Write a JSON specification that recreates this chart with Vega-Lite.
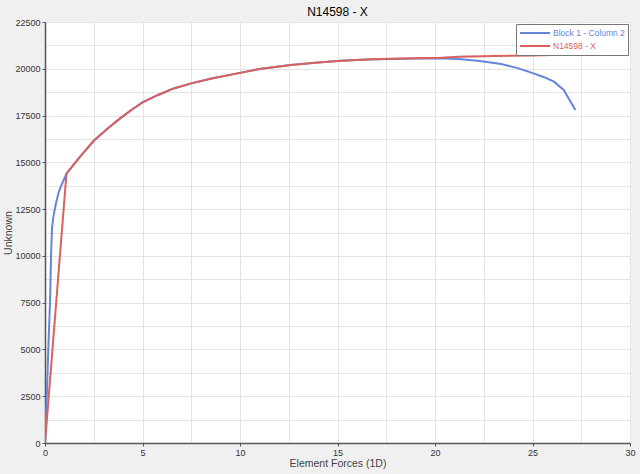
{
  "$schema": "https://vega.github.io/schema/vega-lite/v6.json",
  "width": 585,
  "height": 421,
  "autosize": {"type": "none"},
  "padding": {"left": 45, "top": 22, "right": 10, "bottom": 31},
  "background": "#f0f0f0",
  "title": {"text": "N14598 - X", "fontSize": 12, "fontWeight": "normal", "font": "Liberation Sans", "color": "#000", "offset": 5, "dy": 6, "anchor": "middle"},
  "data": {"values": [
    {"s": "Block 1 - Column 2", "x": 0, "y": 0},
    {"s": "Block 1 - Column 2", "x": 0.05, "y": 1500},
    {"s": "Block 1 - Column 2", "x": 0.1, "y": 2800},
    {"s": "Block 1 - Column 2", "x": 0.17, "y": 5000},
    {"s": "Block 1 - Column 2", "x": 0.26, "y": 7600},
    {"s": "Block 1 - Column 2", "x": 0.31, "y": 10000},
    {"s": "Block 1 - Column 2", "x": 0.36, "y": 11500},
    {"s": "Block 1 - Column 2", "x": 0.43, "y": 12100},
    {"s": "Block 1 - Column 2", "x": 0.56, "y": 12800},
    {"s": "Block 1 - Column 2", "x": 0.7, "y": 13400},
    {"s": "Block 1 - Column 2", "x": 0.85, "y": 13800},
    {"s": "Block 1 - Column 2", "x": 1.1, "y": 14400},
    {"s": "Block 1 - Column 2", "x": 1.8, "y": 15300},
    {"s": "Block 1 - Column 2", "x": 2.5, "y": 16150},
    {"s": "Block 1 - Column 2", "x": 3.2, "y": 16800},
    {"s": "Block 1 - Column 2", "x": 3.85, "y": 17350},
    {"s": "Block 1 - Column 2", "x": 4.5, "y": 17850},
    {"s": "Block 1 - Column 2", "x": 5.0, "y": 18200},
    {"s": "Block 1 - Column 2", "x": 5.8, "y": 18600},
    {"s": "Block 1 - Column 2", "x": 6.6, "y": 18950},
    {"s": "Block 1 - Column 2", "x": 7.5, "y": 19220},
    {"s": "Block 1 - Column 2", "x": 8.6, "y": 19490},
    {"s": "Block 1 - Column 2", "x": 10, "y": 19780},
    {"s": "Block 1 - Column 2", "x": 11, "y": 19990},
    {"s": "Block 1 - Column 2", "x": 12.6, "y": 20200},
    {"s": "Block 1 - Column 2", "x": 14, "y": 20330},
    {"s": "Block 1 - Column 2", "x": 15.2, "y": 20430},
    {"s": "Block 1 - Column 2", "x": 16.5, "y": 20490},
    {"s": "Block 1 - Column 2", "x": 17.7, "y": 20520},
    {"s": "Block 1 - Column 2", "x": 19, "y": 20550},
    {"s": "Block 1 - Column 2", "x": 20.3, "y": 20560},
    {"s": "Block 1 - Column 2", "x": 21.2, "y": 20520},
    {"s": "Block 1 - Column 2", "x": 22.3, "y": 20420},
    {"s": "Block 1 - Column 2", "x": 23.4, "y": 20250},
    {"s": "Block 1 - Column 2", "x": 24.2, "y": 20050},
    {"s": "Block 1 - Column 2", "x": 24.9, "y": 19810},
    {"s": "Block 1 - Column 2", "x": 25.6, "y": 19550},
    {"s": "Block 1 - Column 2", "x": 26.1, "y": 19310},
    {"s": "Block 1 - Column 2", "x": 26.6, "y": 18870},
    {"s": "Block 1 - Column 2", "x": 27.2, "y": 17800},
    {"s": "N14598 - X", "x": 0, "y": 0},
    {"s": "N14598 - X", "x": 1.1, "y": 14400},
    {"s": "N14598 - X", "x": 1.8, "y": 15300},
    {"s": "N14598 - X", "x": 2.5, "y": 16150},
    {"s": "N14598 - X", "x": 3.2, "y": 16800},
    {"s": "N14598 - X", "x": 3.85, "y": 17350},
    {"s": "N14598 - X", "x": 4.5, "y": 17850},
    {"s": "N14598 - X", "x": 5.0, "y": 18200},
    {"s": "N14598 - X", "x": 5.8, "y": 18600},
    {"s": "N14598 - X", "x": 6.6, "y": 18950},
    {"s": "N14598 - X", "x": 7.5, "y": 19220},
    {"s": "N14598 - X", "x": 8.6, "y": 19490},
    {"s": "N14598 - X", "x": 10, "y": 19780},
    {"s": "N14598 - X", "x": 11, "y": 19990},
    {"s": "N14598 - X", "x": 12.6, "y": 20200},
    {"s": "N14598 - X", "x": 14, "y": 20330},
    {"s": "N14598 - X", "x": 15.2, "y": 20430},
    {"s": "N14598 - X", "x": 16.5, "y": 20490},
    {"s": "N14598 - X", "x": 17.7, "y": 20530},
    {"s": "N14598 - X", "x": 19, "y": 20560},
    {"s": "N14598 - X", "x": 20.3, "y": 20590},
    {"s": "N14598 - X", "x": 21.2, "y": 20640},
    {"s": "N14598 - X", "x": 23, "y": 20680},
    {"s": "N14598 - X", "x": 25, "y": 20710},
    {"s": "N14598 - X", "x": 26, "y": 20740}
  ]},
  "mark": {"type": "line", "strokeWidth": 2, "clip": true},
  "encoding": {
    "x": {
      "field": "x", "type": "quantitative",
      "scale": {"domain": [0, 30], "nice": false, "zero": false},
      "axis": {
        "title": "Element Forces (1D)",
        "values": [0, 2.5, 5, 7.5, 10, 12.5, 15, 17.5, 20, 22.5, 25, 27.5, 30],
        "labelExpr": "datum.value % 5 === 0 ? datum.label : ''",
        "tickColor": {"condition": {"test": "datum.value % 5 === 0", "value": "#555"}, "value": "transparent"},
        "format": "d"
      }
    },
    "y": {
      "field": "y", "type": "quantitative",
      "scale": {"domain": [0, 22500], "nice": false, "zero": false},
      "axis": {
        "title": "Unknown",
        "values": [0, 1250, 2500, 3750, 5000, 6250, 7500, 8750, 10000, 11250, 12500, 13750, 15000, 16250, 17500, 18750, 20000, 21250, 22500],
        "labelExpr": "datum.value % 2500 === 0 ? datum.label : ''",
        "tickColor": {"condition": {"test": "datum.value % 2500 === 0", "value": "#555"}, "value": "transparent"},
        "format": "d"
      }
    },
    "color": {
      "field": "s", "type": "nominal",
      "scale": {"domain": ["Block 1 - Column 2", "N14598 - X"], "range": ["#6685dc", "#d9615c"]},
      "legend": {
        "title": null,
        "orient": "top-right",
        "offset": 2,
        "fillColor": "white",
        "strokeColor": "#777",
        "padding": 3,
        "rowPadding": 1,
        "clipHeight": 12,
        "symbolType": "stroke",
        "symbolStrokeWidth": 2,
        "symbolSize": 900,
        "labelOffset": 2,
        "labelFontSize": 8.5,
        "labelFont": "Liberation Sans",
        "encode": {"labels": {"update": {"fill": {"scale": "color", "field": "value"}}}}
      }
    }
  },
  "config": {
    "view": {"fill": "white", "stroke": "#999", "strokeWidth": 1},
    "axis": {
      "gridColor": "#e4e4e4",
      "gridWidth": 1,
      "domainColor": "#555",
      "domainWidth": 1.5,
      "tickSize": 3,
      "labelFont": "Liberation Sans",
      "labelFontSize": 9,
      "labelColor": "#333",
      "labelPadding": 2,
      "titleFont": "Liberation Sans",
      "titleFontSize": 10.5,
      "titleFontWeight": "normal",
      "titleColor": "#444"
    },
    "axisX": {"titlePadding": 1, "labelFlush": false},
    "axisY": {"titlePadding": 1}
  }
}
